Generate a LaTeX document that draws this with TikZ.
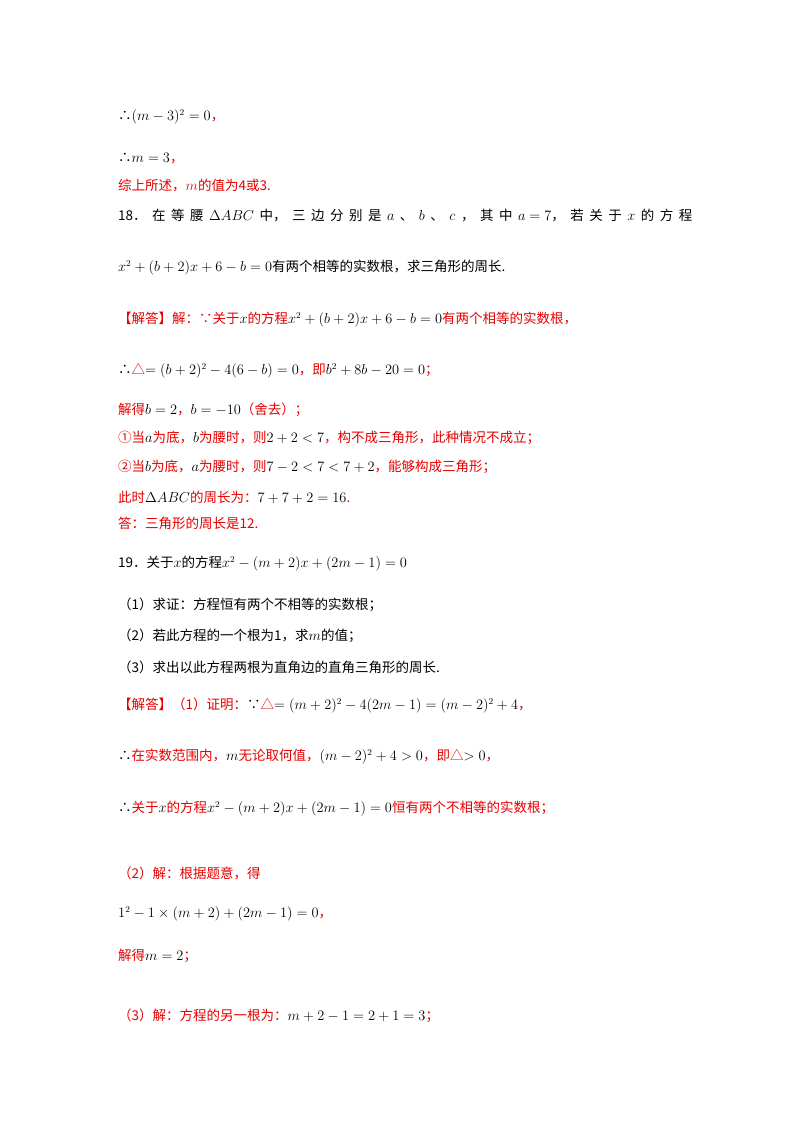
\documentclass[tikz,border=0pt]{standalone}
\usepackage{amsmath,amssymb}
\usepackage{fontspec}
\setmainfont{Noto Sans CJK SC}
\definecolor{rd}{RGB}{230,0,0}
\newcommand{\rr}[1]{\textcolor{rd}{#1}}
\newcommand{\gp}{\hspace{5.5pt}}
\begin{document}
\begin{tikzpicture}[x=1pt,y=-1pt,
  ln/.style={anchor=west,inner sep=0pt,font=\fontsize{13.5}{16}\selectfont}]
\useasboundingbox (0,0) rectangle (800,1132);
\fill[white] (0,0) rectangle (800,1132);
\node[ln] (l1) at (118,117) {∴$(m-3)^2=0$\rr{，}};
\node[ln] (l2) at (118,159) {∴$m=3$\rr{，}};
\node[ln] (l3) at (118,186) {\rr{综上所述，$m$的值为4或3.}};
\node[ln] (l4) at (118,216) {18．\gp 在\gp 等\gp 腰\gp $\Delta ABC$\gp 中，\gp 三\gp 边\gp 分\gp 别\gp 是\gp $a$\gp 、\gp $b$\gp 、\gp $c$\gp ，\gp 其\gp 中\gp $a=7$，\gp 若\gp 关\gp 于\gp $x$\gp 的\gp 方\gp 程};
\node[ln] (l5) at (118,268) {$x^2+(b+2)x+6-b=0$有两个相等的实数根，求三角形的周长.};
\node[ln] (l6) at (118,320) {\rr{【解答】解：∵关于}$x$\rr{的方程}$x^2+(b+2)x+6-b=0$\rr{有两个相等的实数根，}};
\node[ln] (l7) at (118,371) {∴\rr{△}$=(b+2)^2-4(6-b)=0$\rr{，即}$b^2+8b-20=0$\rr{；}};
\node[ln] (l8) at (118,410) {\rr{解得}$b=2$\rr{，}$b=-10$\rr{（舍去）；}};
\node[ln] (l9) at (118,438) {\rr{①当}$a$\rr{为底，}$b$\rr{为腰时，则}$2+2<7$\rr{，构不成三角形，此种情况不成立；}};
\node[ln] (l10) at (118,467) {\rr{②当}$b$\rr{为底，}$a$\rr{为腰时，则}$7-2<7<7+2$\rr{，能够构成三角形；}};
\node[ln] (l11) at (118,497) {\rr{此时}$\Delta ABC$\rr{的周长为：}$7+7+2=16$\rr{.}};
\node[ln] (l12) at (118,523) {\rr{答：三角形的周长是12.}};
\node[ln] (l13) at (118,564) {19．关于$x$的方程$x^2-(m+2)x+(2m-1)=0$};
\node[ln] (l14) at (118,605) {（1）求证：方程恒有两个不相等的实数根；};
\node[ln] (l15) at (118,636) {（2）若此方程的一个根为1，求$m$的值；};
\node[ln] (l16) at (118,667) {（3）求出以此方程两根为直角边的直角三角形的周长.};
\node[ln] (l17) at (118,706) {\rr{【解答】（1）证明：}∵\rr{△}$=(m+2)^2-4(2m-1)=(m-2)^2+4$\rr{，}};
\node[ln] (l18) at (118,757) {∴\rr{在实数范围内，}$m$\rr{无论取何值，}$(m-2)^2+4>0$\rr{，即△}$>0$\rr{，}};
\node[ln] (l19) at (118,809) {∴\rr{关于}$x$\rr{的方程}$x^2-(m+2)x+(2m-1)=0$\rr{恒有两个不相等的实数根；}};
\node[ln] (l20) at (118,873) {\rr{（2）解：根据题意，得}};
\node[ln] (l21) at (118,914) {$1^2-1\times(m+2)+(2m-1)=0$\rr{，}};
\node[ln] (l22) at (118,956) {\rr{解得}$m=2$\rr{；}};
\node[ln] (l23) at (118,1016) {\rr{（3）解：方程的另一根为：}$m+2-1=2+1=3$\rr{；}};
\end{tikzpicture}
\end{document}
